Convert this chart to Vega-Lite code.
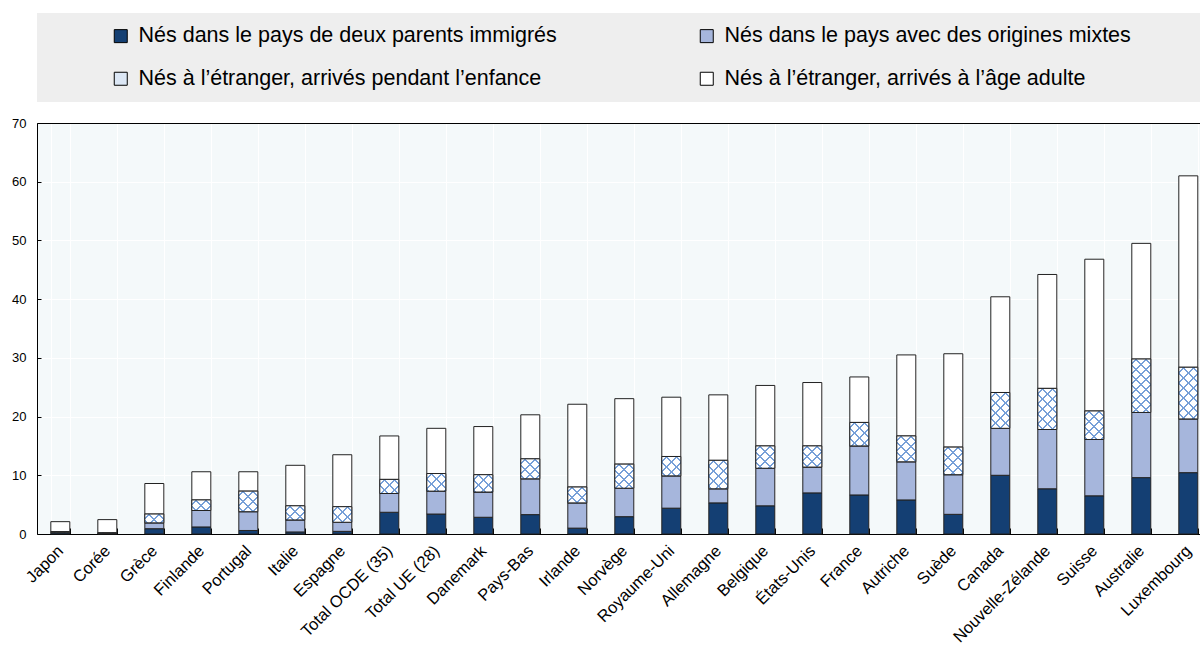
{
  "$schema": "https://vega.github.io/schema/vega-lite/v6.json",
  "padding": {"left": 11, "top": 13, "right": 0, "bottom": 0},
  "bounds": "flush",
  "spacing": 21,
  "config": {"font": "Liberation Sans", "axis": {"labelColor": "#000000"}},
  "params": [
    {"name": "stA", "expr": "[{offset:0,color:'#ffffff'},{offset:0.04,color:'#ffffff'},{offset:0.04,color:'#77A0D8'},{offset:0.06,color:'#77A0D8'},{offset:0.06,color:'#ffffff'},{offset:0.14,color:'#ffffff'},{offset:0.14,color:'#77A0D8'},{offset:0.16,color:'#77A0D8'},{offset:0.16,color:'#ffffff'},{offset:0.24,color:'#ffffff'},{offset:0.24,color:'#77A0D8'},{offset:0.26,color:'#77A0D8'},{offset:0.26,color:'#ffffff'},{offset:0.34,color:'#ffffff'},{offset:0.34,color:'#77A0D8'},{offset:0.36,color:'#77A0D8'},{offset:0.36,color:'#ffffff'},{offset:0.44,color:'#ffffff'},{offset:0.44,color:'#77A0D8'},{offset:0.46,color:'#77A0D8'},{offset:0.46,color:'#ffffff'},{offset:0.54,color:'#ffffff'},{offset:0.54,color:'#77A0D8'},{offset:0.56,color:'#77A0D8'},{offset:0.56,color:'#ffffff'},{offset:0.64,color:'#ffffff'},{offset:0.64,color:'#77A0D8'},{offset:0.66,color:'#77A0D8'},{offset:0.66,color:'#ffffff'},{offset:0.74,color:'#ffffff'},{offset:0.74,color:'#77A0D8'},{offset:0.76,color:'#77A0D8'},{offset:0.76,color:'#ffffff'},{offset:0.84,color:'#ffffff'},{offset:0.84,color:'#77A0D8'},{offset:0.86,color:'#77A0D8'},{offset:0.86,color:'#ffffff'},{offset:0.94,color:'#ffffff'},{offset:0.94,color:'#77A0D8'},{offset:0.96,color:'#77A0D8'},{offset:0.96,color:'#ffffff'},{offset:1,color:'#ffffff'}]"},
    {"name": "stB", "expr": "[{offset:0,color:'rgba(255,255,255,0)'},{offset:0.04,color:'rgba(255,255,255,0)'},{offset:0.04,color:'#77A0D8'},{offset:0.06,color:'#77A0D8'},{offset:0.06,color:'rgba(255,255,255,0)'},{offset:0.14,color:'rgba(255,255,255,0)'},{offset:0.14,color:'#77A0D8'},{offset:0.16,color:'#77A0D8'},{offset:0.16,color:'rgba(255,255,255,0)'},{offset:0.24,color:'rgba(255,255,255,0)'},{offset:0.24,color:'#77A0D8'},{offset:0.26,color:'#77A0D8'},{offset:0.26,color:'rgba(255,255,255,0)'},{offset:0.34,color:'rgba(255,255,255,0)'},{offset:0.34,color:'#77A0D8'},{offset:0.36,color:'#77A0D8'},{offset:0.36,color:'rgba(255,255,255,0)'},{offset:0.44,color:'rgba(255,255,255,0)'},{offset:0.44,color:'#77A0D8'},{offset:0.46,color:'#77A0D8'},{offset:0.46,color:'rgba(255,255,255,0)'},{offset:0.54,color:'rgba(255,255,255,0)'},{offset:0.54,color:'#77A0D8'},{offset:0.56,color:'#77A0D8'},{offset:0.56,color:'rgba(255,255,255,0)'},{offset:0.64,color:'rgba(255,255,255,0)'},{offset:0.64,color:'#77A0D8'},{offset:0.66,color:'#77A0D8'},{offset:0.66,color:'rgba(255,255,255,0)'},{offset:0.74,color:'rgba(255,255,255,0)'},{offset:0.74,color:'#77A0D8'},{offset:0.76,color:'#77A0D8'},{offset:0.76,color:'rgba(255,255,255,0)'},{offset:0.84,color:'rgba(255,255,255,0)'},{offset:0.84,color:'#77A0D8'},{offset:0.86,color:'#77A0D8'},{offset:0.86,color:'rgba(255,255,255,0)'},{offset:0.94,color:'rgba(255,255,255,0)'},{offset:0.94,color:'#77A0D8'},{offset:0.96,color:'#77A0D8'},{offset:0.96,color:'rgba(255,255,255,0)'},{offset:1,color:'rgba(255,255,255,0)'}]"}
  ],
  "data": {"values": [
    {"pays": "Japon", "parents": 0.2, "mixtes": 0.1, "enfance": 0.1, "adulte": 1.7},
    {"pays": "Corée", "parents": 0.1, "mixtes": 0.05, "enfance": 0.05, "adulte": 2.25},
    {"pays": "Grèce", "parents": 0.9, "mixtes": 1.0, "enfance": 1.5, "adulte": 5.2},
    {"pays": "Finlande", "parents": 1.2, "mixtes": 2.8, "enfance": 1.8, "adulte": 4.8},
    {"pays": "Portugal", "parents": 0.6, "mixtes": 3.2, "enfance": 3.5, "adulte": 3.3},
    {"pays": "Italie", "parents": 0.35, "mixtes": 2.05, "enfance": 2.4, "adulte": 6.9},
    {"pays": "Espagne", "parents": 0.45, "mixtes": 1.55, "enfance": 2.65, "adulte": 8.85},
    {"pays": "Total OCDE (35)", "parents": 3.7, "mixtes": 3.2, "enfance": 2.4, "adulte": 7.4},
    {"pays": "Total UE (28)", "parents": 3.4, "mixtes": 3.9, "enfance": 3.0, "adulte": 7.7},
    {"pays": "Danemark", "parents": 2.85, "mixtes": 4.3, "enfance": 2.95, "adulte": 8.2},
    {"pays": "Pays-Bas", "parents": 3.3, "mixtes": 6.1, "enfance": 3.4, "adulte": 7.5},
    {"pays": "Irlande", "parents": 1.0, "mixtes": 4.3, "enfance": 2.7, "adulte": 14.1},
    {"pays": "Norvège", "parents": 2.95, "mixtes": 4.85, "enfance": 4.1, "adulte": 11.15},
    {"pays": "Royaume-Uni", "parents": 4.4, "mixtes": 5.5, "enfance": 3.3, "adulte": 10.1},
    {"pays": "Allemagne", "parents": 5.3, "mixtes": 2.4, "enfance": 4.85, "adulte": 11.15},
    {"pays": "Belgique", "parents": 4.8, "mixtes": 6.4, "enfance": 3.8, "adulte": 10.3},
    {"pays": "États-Unis", "parents": 7.0, "mixtes": 4.4, "enfance": 3.6, "adulte": 10.8},
    {"pays": "France", "parents": 6.65, "mixtes": 8.35, "enfance": 4.0, "adulte": 7.75},
    {"pays": "Autriche", "parents": 5.8, "mixtes": 6.5, "enfance": 4.4, "adulte": 13.8},
    {"pays": "Suède", "parents": 3.35, "mixtes": 6.75, "enfance": 4.7, "adulte": 15.9},
    {"pays": "Canada", "parents": 10.0, "mixtes": 8.0, "enfance": 6.1, "adulte": 16.3},
    {"pays": "Nouvelle-Zélande", "parents": 7.7, "mixtes": 10.1, "enfance": 7.0, "adulte": 19.4},
    {"pays": "Suisse", "parents": 6.5, "mixtes": 9.6, "enfance": 4.85, "adulte": 25.85},
    {"pays": "Australie", "parents": 9.6, "mixtes": 11.1, "enfance": 9.1, "adulte": 19.7},
    {"pays": "Luxembourg", "parents": 10.45, "mixtes": 9.15, "enfance": 8.8, "adulte": 32.6}
  ]},
  "resolve": {"scale": {"color": "independent"}, "legend": {"color": "independent"}},
  "vconcat": [
    {
      "width": 1163,
      "height": 89,
      "view": {"fill": "#EEEEEE", "stroke": null},
      "transform": [{"filter": "false"}],
      "mark": {"type": "rect", "opacity": 0},
      "encoding": {}
    },
    {
      "width": 1163,
      "height": 411,
      "view": {"fill": "#F4F9FA", "stroke": null},
      "transform": [
        {"fold": ["parents", "mixtes", "enfance", "adulte"], "as": ["groupe", "valeur"]},
        {"stack": "valeur", "groupby": ["pays"], "sort": [{"field": "groupe", "order": "descending"}], "as": ["v0", "v1"]}
      ],
      "encoding": {
        "x": {
          "field": "pays", "type": "nominal", "sort": null,
          "scale": {"paddingInner": 0.589, "paddingOuter": 0.167, "align": 0.87},
          "axis": {
            "title": null, "labelAngle": -45, "labelFontSize": 16.5, "labelFont": "Liberation Sans",
            "labelColor": "#000000", "labelPadding": 20, "labelBaseline": "middle", "labelAlign": "right",
            "tickBand": "extent", "tickSize": -6,
            "tickColor": "#000000", "domainColor": "#000000", "grid": true, "gridColor": "#FFFFFF"
          }
        },
        "y": {
          "field": "v1", "type": "quantitative",
          "scale": {"domain": [0, 70], "nice": false},
          "axis": {
            "title": null, "values": [0, 10, 20, 30, 40, 50, 60, 70], "labelFontSize": 13,
            "labelFont": "Liberation Sans", "labelColor": "#000000", "tickSize": -4, "labelPadding": 15,
            "tickColor": "#000000", "domainColor": "#000000", "grid": true,
            "gridColor": {"condition": {"test": "datum.value === 70", "value": "#000000"}, "value": "#FFFFFF"}
          }
        },
        "y2": {"field": "v0"}
      },
      "layer": [
        {
          "mark": {"type": "bar", "width": 19, "stroke": "#222222", "strokeWidth": 1},
          "encoding": {
            "color": {
              "field": "groupe", "type": "nominal",
              "scale": {"domain": ["parents", "enfance", "mixtes", "adulte"], "range": ["#143F73", "#DCE7F5", "#A6B6DC", "#FFFFFF"]},
              "legend": {
                "orient": "none", "legendX": 73, "legendY": -98, "columns": 2, "columnPadding": 139,
                "rowPadding": 20, "symbolType": "square", "symbolSize": 169, "symbolStrokeColor": "#000000",
                "symbolStrokeWidth": 1, "labelFontSize": 21.5, "labelFont": "Liberation Sans", "labelColor": "#000000",
                "labelOffset": 7, "labelLimit": 700, "title": null, "padding": 0,
                "labelExpr": "{'parents':'Nés dans le pays de deux parents immigrés','mixtes':'Nés dans le pays avec des origines mixtes','enfance':'Nés à l’étranger, arrivés pendant l’enfance','adulte':'Nés à l’étranger, arrivés à l’âge adulte'}[datum.value]"
              }
            }
          }
        },
        {
          "transform": [{"filter": "datum.groupe === 'enfance'"}],
          "mark": {
            "type": "bar", "width": 19, "strokeWidth": 0,
            "fill": {"expr": "{gradient:'linear',x1:0,y1:0,x2:1900/(361+pow((datum.v1-datum.v0)*5.871,2)),y2:587.1*(datum.v1-datum.v0)/(361+pow((datum.v1-datum.v0)*5.871,2)),stops:stA}"}
          }
        },
        {
          "transform": [{"filter": "datum.groupe === 'enfance'"}],
          "mark": {
            "type": "bar", "width": 19, "stroke": "#222222", "strokeWidth": 1,
            "fill": {"expr": "{gradient:'linear',x1:1,y1:0,x2:1-1900/(361+pow((datum.v1-datum.v0)*5.871,2)),y2:587.1*(datum.v1-datum.v0)/(361+pow((datum.v1-datum.v0)*5.871,2)),stops:stB}"}
          }
        }
      ]
    }
  ]
}
